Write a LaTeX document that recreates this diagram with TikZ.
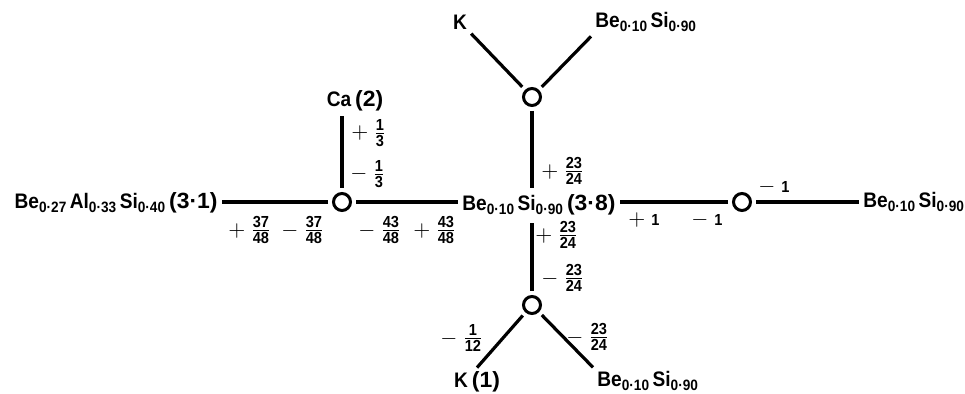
\documentclass[tikz,border=0pt]{standalone}
\usepackage{amsmath}
\usepackage{graphicx}
\usepackage{fontspec}
\setmainfont{Liberation Sans}[FakeStretch=0.91]
\newcommand\lo[1]{\raisebox{-0.35ex}{\fontsize{7.5}{8}\selectfont #1}}
\newcommand\pn[1]{\hspace{2pt}\scalebox{1.2}[1.05]{(#1)}}
\newcommand\fr[2]{\ensuremath{\genfrac{}{}{0.6pt}{1}{\hbox{\fontsize{8}{8}\selectfont\bfseries #1}}{\hbox{\fontsize{8}{8}\selectfont\bfseries #2}}}}
\newcommand\pq[2]{$+$\hspace{2.5pt}\fr{#1}{#2}}
\newcommand\mq[2]{$-$\hspace{2.5pt}\fr{#1}{#2}}
\newcommand\one{{\fontsize{8}{8}\selectfont\bfseries 1}}
\begin{document}
\begin{tikzpicture}[x=0.5pt,y=-0.5pt,
  lbl/.style={font=\fontsize{10.5}{12}\selectfont\bfseries, inner sep=2pt},
  atom/.style={circle,draw,line width=1.5pt,minimum size=8.5pt,inner sep=0pt,outer sep=2.75pt},
  bond/.style={line width=1.6pt},
  chg/.style={inner sep=0pt,anchor=west,font=\fontsize{11}{12}\selectfont}]
\useasboundingbox (0,0) rectangle (965,394);
% oxygen atoms
\node[atom] (O1) at (342,202) {};
\node[atom] (O2) at (532,97) {};
\node[atom] (O3) at (532,305) {};
\node[atom] (O4) at (742,202) {};
% labels
\node[lbl,anchor=base east] (L) at (222,209) {Be\lo{0·27}\,Al\lo{0·33}\,Si\lo{0·40}\pn{3·1}};
\node[lbl,anchor=base west,inner ysep=3.5pt] (C) at (458,211) {Be\lo{0·10}\,Si\lo{0·90}\pn{3·8}};
\node[lbl,anchor=base west] (R) at (859,208) {Be\lo{0·10}\,Si\lo{0·90}};
\node[lbl,anchor=base] (CA) at (355,107) {Ca\pn{2}};
\node[lbl] (K) at (460,22) {K};
\node[lbl,anchor=base west] (TB) at (591,28) {Be\lo{0·10}\,Si\lo{0·90}};
\node[lbl,anchor=base] (K1) at (477,388) {K\pn{1}};
\node[lbl,anchor=base west] (BB) at (593,387) {Be\lo{0·10}\,Si\lo{0·90}};
% bonds
\draw[bond] (O1) -- (O1 -| L.east);
\draw[bond] (O1) -- (O1 -| C.west);
\draw[bond] (O1) -- (O1 |- CA.south);
\draw[bond] (O2) -- (O2 |- C.north);
\draw[bond] (O3) -- (O3 |- C.south);
\draw[bond] (O4) -- (O4 -| C.east);
\draw[bond] (O4) -- (O4 -| R.west);
\draw[bond] (O2) -- (K);
\draw[bond] (O2) -- (TB.south west);
\draw[bond] (O3) -- (K1.north);
\draw[bond] (O3) -- (BB.north west);
% charges
\node[chg] (c1) at (228,230) {\pq{37}{48}};
\node[chg] (c2) at (281,230) {\mq{37}{48}};
\node[chg] (c3) at (358,230) {\mq{43}{48}};
\node[chg] (c4) at (413,230) {\pq{43}{48}};
\node[chg] (c5) at (351,133) {\pq{1}{3}};
\node[chg] (c6) at (350,174) {\mq{1}{3}};
\node[chg] (c7) at (541,171) {\pq{23}{24}};
\node[chg] (c8) at (535,235) {\pq{23}{24}};
\node[chg] (c9) at (541,278) {\mq{23}{24}};
\node[chg] (c10) at (440,338) {\mq{1}{12}};
\node[chg] (c11) at (566,337) {\mq{23}{24}};
\node[chg] (c12) at (628,220) {$+$\hspace{3pt}\one};
\node[chg] (c13) at (691,220) {$-$\hspace{3pt}\one};
\node[chg] (c14) at (758,187) {$-$\hspace{3pt}\one};
\end{tikzpicture}
\end{document}
